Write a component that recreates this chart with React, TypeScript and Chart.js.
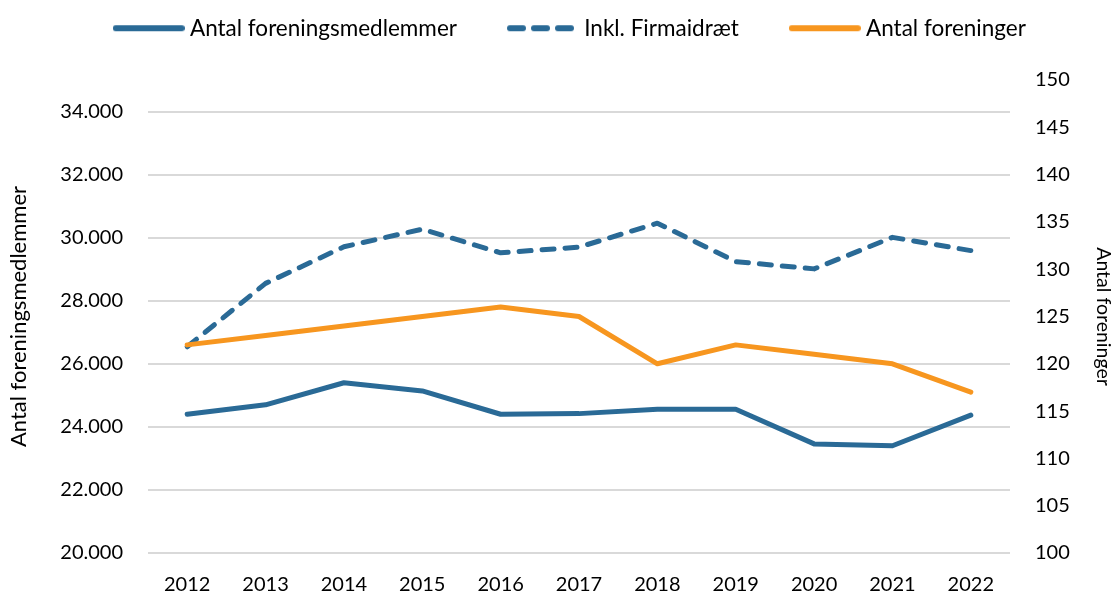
import React, { useEffect, useRef } from 'react';
import { Chart, registerables } from 'chart.js';

Chart.register(...registerables);

const years = ['2012', '2013', '2014', '2015', '2016', '2017', '2018', '2019', '2020', '2021', '2022'];
const members = [24400, 24700, 25400, 25140, 24400, 24420, 24560, 24560, 23460, 23400, 24370];
const membersInclFirm = [26540, 28550, 29710, 30270, 29520, 29700, 30460, 29240, 29010, 30010, 29590];
const associations = [122, 123, 124, 125, 126, 125, 120, 122, 121, 120, 117];
const leftTicks = [20000, 22000, 24000, 26000, 28000, 30000, 32000, 34000];

const BLUE = '#2A6A96';
const ORANGE = '#F7961F';
const FONT = 'Lato';

function fmt(v: number) {
  return String(v).replace(/\B(?=(\d{3})+(?!\d))/g, '.');
}

function legendSample(color: string, dashed: boolean) {
  const c = document.createElement('canvas');
  c.width = 72;
  c.height = 8;
  const ctx = c.getContext('2d') as CanvasRenderingContext2D;
  ctx.strokeStyle = color;
  ctx.lineWidth = 6;
  ctx.lineCap = 'round';
  if (dashed) {
    ctx.setLineDash([13, 11]);
    ctx.beginPath();
    ctx.moveTo(3, 4);
    ctx.lineTo(64, 4);
    ctx.stroke();
  } else {
    ctx.beginPath();
    ctx.moveTo(3, 4);
    ctx.lineTo(69, 4);
    ctx.stroke();
  }
  return c;
}

export default function App() {
  const ref = useRef<HTMLCanvasElement | null>(null);
  useEffect(() => {
    document.body.style.margin = '0';
    const legendFix = {
      id: 'legendFix',
      beforeInit(chart: any) {
        const legend = chart.legend;
        const orig = legend.fit;
        legend.fit = function () {
          orig.call(this);
          this.height = 80;
        };
      },
      afterLayout(chart: any) {
        const l = chart.legend;
        const h = l.bottom - l.top;
        l.left = 62.7;
        l.right = 62.7 + 1115;
        l.top = -39;
        l.bottom = -39 + h;
      },
    };
    const chart = new Chart(ref.current as HTMLCanvasElement, {
      type: 'line',
      data: {
        labels: years,
        datasets: [
          {
            label: 'Antal foreningsmedlemmer',
            data: members,
            borderColor: BLUE,
            backgroundColor: BLUE,
            borderWidth: 5,
            pointRadius: 0,
            pointStyle: legendSample(BLUE, false),
            borderCapStyle: 'round',
            borderJoinStyle: 'round',
            yAxisID: 'y',
            order: 1,
          },
          {
            label: 'Inkl. Firmaidræt',
            data: membersInclFirm,
            borderColor: BLUE,
            backgroundColor: BLUE,
            borderWidth: 5,
            borderDash: [12, 11],
            pointRadius: 0,
            pointStyle: legendSample(BLUE, true),
            borderCapStyle: 'round',
            borderJoinStyle: 'round',
            yAxisID: 'y',
            order: 2,
          },
          {
            label: 'Antal foreninger',
            data: associations,
            borderColor: ORANGE,
            backgroundColor: ORANGE,
            borderWidth: 5,
            pointRadius: 0,
            pointStyle: legendSample(ORANGE, false),
            borderCapStyle: 'round',
            borderJoinStyle: 'round',
            yAxisID: 'y1',
            order: 0,
          },
        ],
      },
      options: {
        animation: false,
        responsive: false,
        maintainAspectRatio: false,
        layout: { padding: 0 },
        plugins: {
          tooltip: { enabled: false },
          legend: {
            position: 'top',
            align: 'start',
            labels: {
              usePointStyle: true,
              pointStyleWidth: 60,
              boxHeight: 22.5,
              padding: 56,
              color: '#000',
              font: { family: FONT, size: 22.5 },
              sort: (a: any, b: any) => a.datasetIndex - b.datasetIndex,
            },
          },
        },
        scales: {
          x: {
            offset: true,
            grid: { display: false, drawTicks: false },
            border: { display: false },
            ticks: { color: '#000', font: { family: FONT, size: 20 }, padding: 20, maxRotation: 0 },
            afterFit(scale: any) {
              scale.height = 40;
            },
          },
          y: {
            position: 'left',
            min: 20000,
            max: 35000,
            afterBuildTicks(scale: any) {
              scale.ticks = leftTicks.map((v) => ({ value: v }));
            },
            grid: { color: '#D9D9D9', lineWidth: 2, drawTicks: false },
            border: { display: false },
            ticks: {
              color: '#000',
              font: { family: FONT, size: 20 },
              padding: 25,
              callback: (v: any) => fmt(Number(v)),
            },
            title: {
              display: true,
              text: 'Antal foreningsmedlemmer',
              color: '#000',
              font: { family: FONT, size: 22 },
              padding: { top: 6, bottom: 0 },
            },
            afterFit(scale: any) {
              scale.width = 148;
            },
          },
          y1: {
            position: 'right',
            min: 100,
            max: 150,
            grid: { display: false, drawTicks: false },
            border: { display: false },
            ticks: { color: '#000', font: { family: FONT, size: 20 }, padding: 25, stepSize: 5 },
            title: {
              display: true,
              text: 'Antal foreninger',
              color: '#000',
              font: { family: FONT, size: 19.5 },
              padding: { top: 0, bottom: 0 },
            },
            afterFit(scale: any) {
              scale.width = 105;
            },
          },
        },
      },
      plugins: [legendFix],
    } as any);
    return () => chart.destroy();
  }, []);
  return (
    <div style={{ position: 'absolute', left: 0, top: 0, width: 1115, height: 593, background: '#fff' }}>
      <canvas ref={ref} width={1115} height={593} style={{ width: 1115, height: 593, display: 'block' }} />
    </div>
  );
}
